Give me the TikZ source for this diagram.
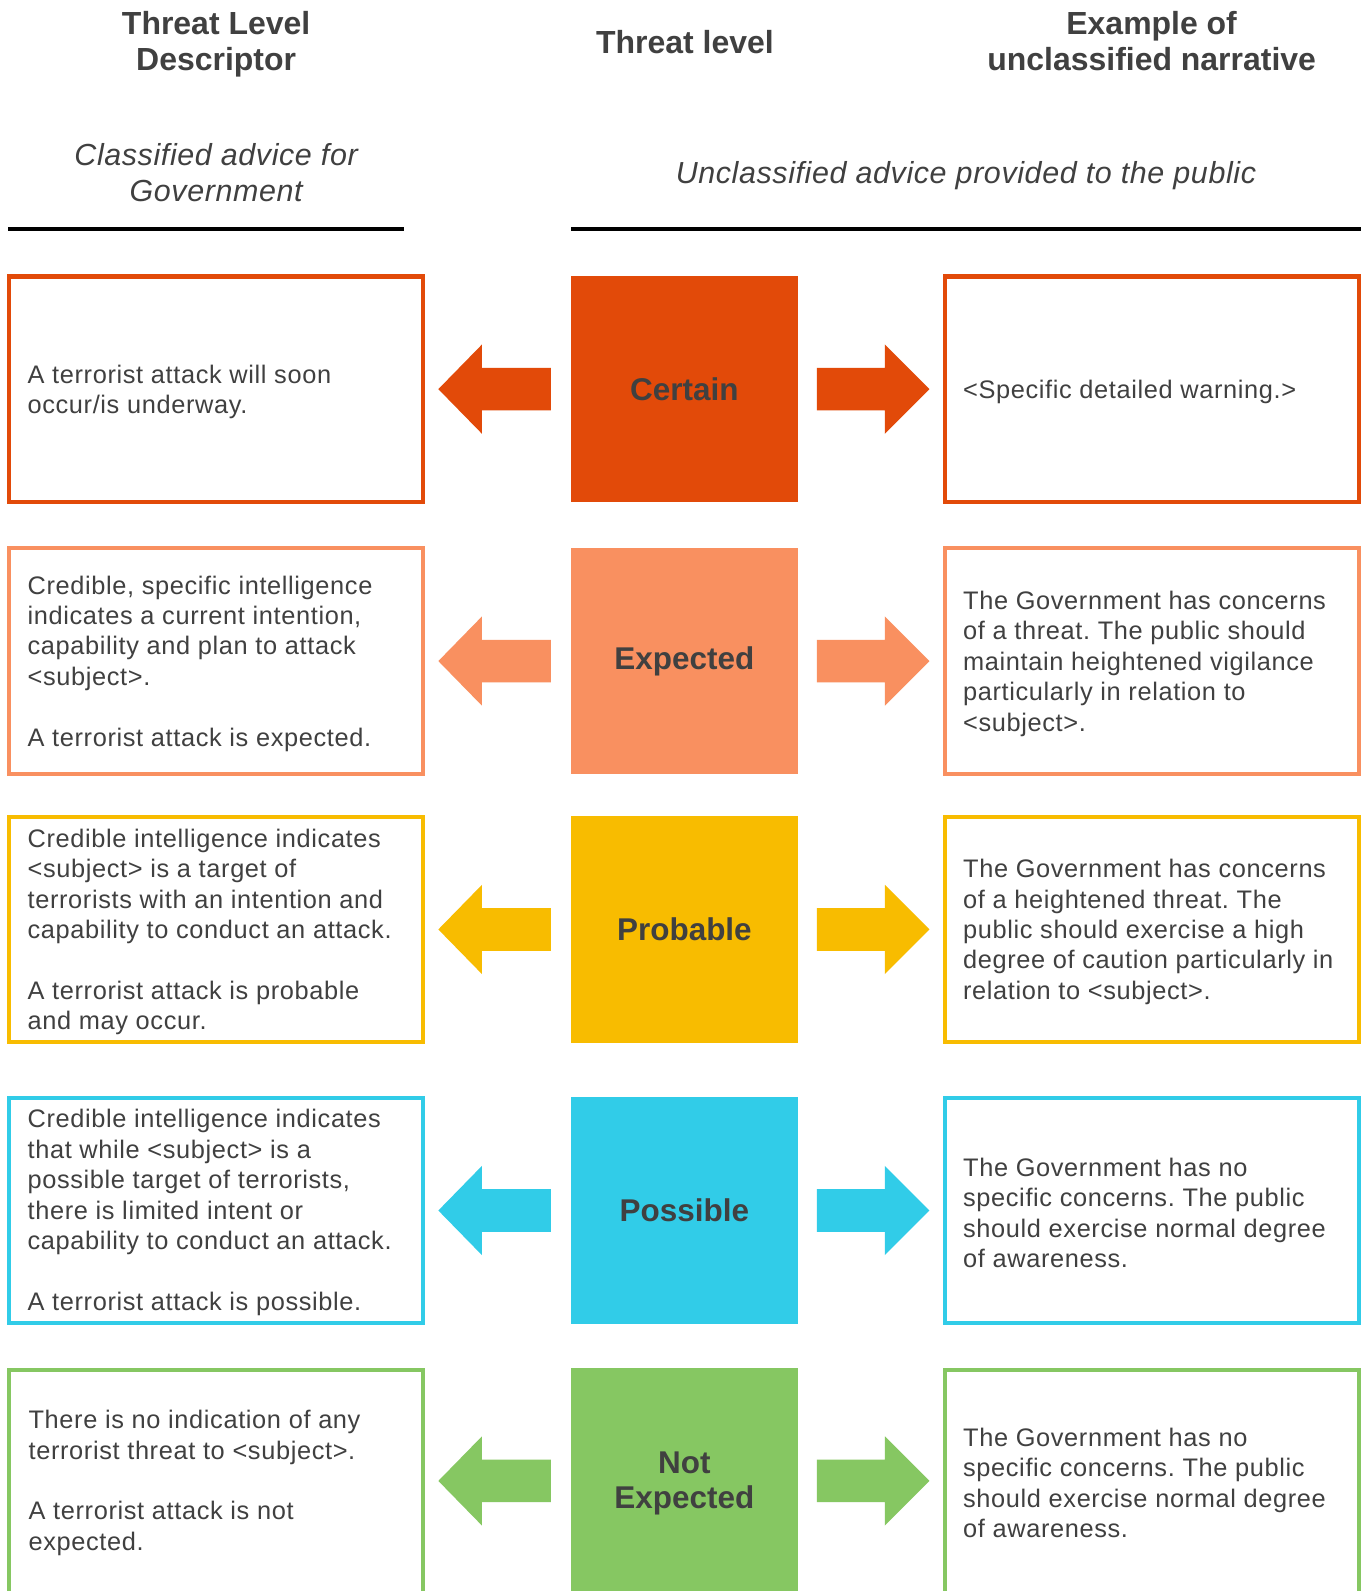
\documentclass[tikz,border=0pt]{standalone}
\usepackage{fontspec}
\setmainfont{Liberation Sans}
\usetikzlibrary{calc}
\definecolor{txt}{HTML}{404040}
\definecolor{cert}{HTML}{E24A09}
\definecolor{expc}{HTML}{F99060}
\definecolor{prob}{HTML}{F8BC00}
\definecolor{poss}{HTML}{31CCE8}
\definecolor{note}{HTML}{86C762}
\newfontfamily\bodyfont[LetterSpace=2.5]{Liberation Sans}
\newfontfamily\subfont[LetterSpace=2]{Liberation Sans}
\newcommand\sidearrows[2]{%
  \fill[#2] ($(#1.center)+(-131.5,-21)$) -- ++(-68,0) -- ++(0,-23) -- ++(-43,44) -- ++(43,44) -- ++(0,-23) -- ++(68,0) -- cycle;
  \fill[#2] ($(#1.center)+(130.5,-21)$) -- ++(67,0) -- ++(0,-23) -- ++(44,44) -- ++(-44,44) -- ++(0,-23) -- ++(-67,0) -- cycle;
}
\begin{document}
\frenchspacing
\begin{tikzpicture}[x=1pt,y=-1pt,
  body/.style={font=\bodyfont\frenchspacing\fontsize{25}{30}\selectfont, text=txt, align=left, anchor=west, inner sep=0pt, yshift=-2.5pt},
  hdr/.style={font=\fontsize{31.5}{35}\selectfont\bfseries, text=txt, align=center, inner sep=0pt},
  sub/.style={font=\subfont\fontsize{30}{35}\selectfont\itshape, text=txt, align=center, inner sep=0pt},
  lvl/.style={font=\fontsize{31}{35}\selectfont\bfseries, text=txt, align=center, inner sep=0pt},
  sidebox/.style={draw=#1, line width=4pt, minimum width=408pt, minimum height=222pt, inner sep=0pt},
  lvlbox/.style={fill=#1, minimum width=223pt, minimum height=223pt, inner sep=0pt},
  rule/.style={line width=4pt, black}]
\useasboundingbox (0,0) rectangle (1345.2,1568);
\clip (0,0) rectangle (1345.2,1568);
\fill[white] (0,0) rectangle (1345.2,1568);

% headers
\node[hdr] (h1) at (213,43.5) {Threat Level\\Descriptor};
\node[hdr] (h2) at (675,41.5) {Threat level};
\node[hdr] (h3) at (1135,40.5) {Example of\\unclassified narrative};
\node[sub] (s1) at (213,170) {Classified advice for\\Government};
\node[sub] (s2) at (952,173.5) {Unclassified advice provided to the public};
\coordinate (r1a) at (8,226); \coordinate (r1b) at (398,226);
\coordinate (r2a) at (563,226); \coordinate (r2b) at (1341,226);
\draw[rule] (r1a) -- (r1b);
\draw[rule] (r2a) -- (r2b);

% row 1
\node[sidebox=cert] (l1) at (212.5,383.5) {};
\node[sidebox=cert] (r1) at (1135,383.5) {};
\node[lvlbox=cert] (c1) at (674.5,383.5) {};
\node[lvl] (t1) at (c1) {Certain};
\sidearrows{c1}{cert}
\node[body] (lt1) at (27,384) {A terrorist attack will soon\\occur/is underway.};
\node[body] (rt1) at (949,384) {<Specific detailed warning.>};

% row 2
\node[sidebox=expc] (l2) at (212.5,651.5) {};
\node[sidebox=expc] (r2) at (1135,651.5) {};
\node[lvlbox=expc] (c2) at (674.5,651.5) {};
\node[lvl] (t2) at (c2) {Expected};
\sidearrows{c2}{expc}
\node[body] (lt2) at (27,651.5) {Credible, specific intelligence\\indicates a current intention,\\capability and plan to attack\\<subject>.\\[30pt]A terrorist attack is expected.};
\node[body] (rt2) at (949,651.5) {The Government has concerns\\of a threat. The public should\\maintain heightened vigilance\\particularly in relation to\\<subject>.};

% row 3
\node[sidebox=prob] (l3) at (212.5,916) {};
\node[sidebox=prob] (r3) at (1135,916) {};
\node[lvlbox=prob] (c3) at (674.5,916) {};
\node[lvl] (t3) at (c3) {Probable};
\sidearrows{c3}{prob}
\node[body] (lt3) at (27,916) {Credible intelligence indicates\\<subject> is a target of\\terrorists with an intention and\\capability to conduct an attack.\\[30pt]A terrorist attack is probable\\and may occur.};
\node[body] (rt3) at (949,916) {The Government has concerns\\of a heightened threat. The\\public should exercise a high\\degree of caution particularly in\\relation to <subject>.};

% row 4
\node[sidebox=poss] (l4) at (212.5,1193) {};
\node[sidebox=poss] (r4) at (1135,1193) {};
\node[lvlbox=poss] (c4) at (674.5,1193) {};
\node[lvl] (t4) at (c4) {Possible};
\sidearrows{c4}{poss}
\node[body] (lt4) at (27,1192.5) {Credible intelligence indicates\\that while <subject> is a\\possible target of terrorists,\\there is limited intent or\\capability to conduct an attack.\\[30pt]A terrorist attack is possible.};
\node[body] (rt4) at (949,1193) {The Government has no\\specific concerns. The public\\should exercise normal degree\\of awareness.};

% row 5 (cut off at the bottom)
\node[sidebox=note, minimum height=400pt, anchor=north] (l5) at (212.5,1348.5) {};
\node[sidebox=note, minimum height=400pt, anchor=north] (r5) at (1135,1348.5) {};
\node[lvlbox=note, minimum height=400pt, anchor=north] (c5box) at (674.5,1348) {};
\coordinate (c5) at (674.5,1459.5);
\node[lvl, yshift=-2.5pt] (t5) at (c5) {Not\\Expected};
\sidearrows{c5}{note}
\node[body] (lt5) at (28,1459) {There is no indication of any\\terrorist threat to <subject>.\\[30pt]A terrorist attack is not\\expected.};
\node[body] (rt5) at (949,1459) {The Government has no\\specific concerns. The public\\should exercise normal degree\\of awareness.};
\end{tikzpicture}
\end{document}
